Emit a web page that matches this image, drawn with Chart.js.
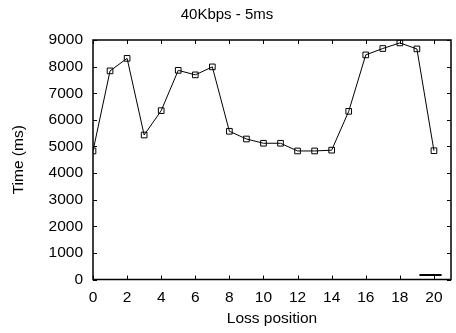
<!DOCTYPE html>
<html lang="en">
<head>
  <meta charset="UTF-8">
  <title>40Kbps - 5ms</title>
  <script src="https://cdn.jsdelivr.net/npm/chart.js"></script>
  <style>
    html, body { margin: 0; padding: 0; background: #fff; }
    #wrap { width: 456px; height: 333px; }
  </style>
</head>
<body>
  <div id="wrap"><canvas id="lossChart" width="456" height="333"></canvas></div>

  <script>
    // data
    const positions = [0, 1, 2, 3, 4, 5, 6, 7, 8, 9, 10, 11, 12, 13, 14, 15, 16, 17, 18, 19, 20];
    const times = [4830, 7840, 8310, 5430, 6345, 7860, 7690, 7990, 5570, 5280, 5120, 5120, 4830, 4830, 4860, 6320, 8440, 8680, 8890, 8665, 4840];
    const keyX = [19.15, 20.45];
    const keyY = [165, 165];
    const xTicks = [0, 2, 4, 6, 8, 10, 12, 14, 16, 18, 20];
    const yTicks = [0, 1000, 2000, 3000, 4000, 5000, 6000, 7000, 8000, 9000];

    const fontFam = "'Liberation Sans', Arial, sans-serif";

    // gnuplot-like box with inward ticks on all four sides
    const framePlugin = {
      id: 'frame',
      afterDatasetsDraw(chart) {
        const { ctx, chartArea: a, scales } = chart;
        const t = 4;
        ctx.save();
        ctx.strokeStyle = '#000';
        ctx.lineWidth = 1;
        ctx.beginPath();
        xTicks.forEach(v => {
          const px = Math.round(scales.x.getPixelForValue(v)) + 0.5;
          ctx.moveTo(px, a.bottom); ctx.lineTo(px, a.bottom - t);
          ctx.moveTo(px, a.top); ctx.lineTo(px, a.top + t);
        });
        yTicks.forEach(v => {
          const py = Math.round(scales.y.getPixelForValue(v)) + 0.5;
          ctx.moveTo(a.left, py); ctx.lineTo(a.left + t, py);
          ctx.moveTo(a.right, py); ctx.lineTo(a.right - t, py);
        });
        ctx.stroke();
        ctx.lineWidth = 1.5;
        ctx.strokeRect(a.left, a.top, a.right - a.left, a.bottom - a.top);
        ctx.restore();
      }
    };

    const ctx = document.getElementById('lossChart').getContext('2d');
    new Chart(ctx, {
      type: 'line',
      data: {
        datasets: [
          {
            data: positions.map((p, i) => ({ x: p, y: times[i] })),
            borderColor: '#000',
            borderWidth: 1,
            pointStyle: 'rect',
            pointRadius: 4,
            pointBorderWidth: 1,
            pointBorderColor: '#000',
            pointBackgroundColor: 'rgba(0,0,0,0)',
            tension: 0
          },
          {
            data: keyX.map((p, i) => ({ x: p, y: keyY[i] })),
            borderColor: '#000',
            borderWidth: 2,
            pointRadius: 0
          }
        ]
      },
      options: {
        responsive: false,
        animation: false,
        layout: { padding: { left: 0, right: 2, top: 0, bottom: 0 } },
        plugins: {
          legend: { display: false },
          tooltip: { enabled: false },
          title: {
            display: true,
            text: '40Kbps - 5ms',
            color: '#000',
            font: { family: fontFam, size: 15, weight: 'normal' },
            padding: { top: 6, bottom: 16 }
          }
        },
        scales: {
          x: {
            type: 'linear',
            min: 0,
            max: 21,
            grid: { display: false, drawTicks: false },
            border: { display: false },
            afterBuildTicks: s => { s.ticks = xTicks.map(v => ({ value: v })); },
            afterFit: s => { s.height = 53.5; },
            ticks: {
              color: '#000',
              padding: 9,
              maxRotation: 0,
              callback: v => String(v),
              font: { family: fontFam, size: 15.5 }
            },
            title: {
              display: true,
              text: 'Loss position',
              color: '#000',
              font: { family: fontFam, size: 15.5 },
              padding: { top: 0, bottom: 5 }
            }
          },
          y: {
            min: 0,
            max: 9000,
            grid: { display: false, drawTicks: false },
            border: { display: false },
            afterBuildTicks: s => { s.ticks = yTicks.map(v => ({ value: v })); },
            afterFit: s => { s.width = 93; },
            ticks: {
              color: '#000',
              padding: 10,
              callback: v => String(v),
              font: { family: fontFam, size: 15.5 }
            },
            title: {
              display: true,
              text: 'Time (ms)',
              color: '#000',
              font: { family: fontFam, size: 15.5 },
              padding: { top: 9, bottom: 0 }
            }
          }
        }
      },
      plugins: [framePlugin]
    });
  </script>
</body>
</html>
